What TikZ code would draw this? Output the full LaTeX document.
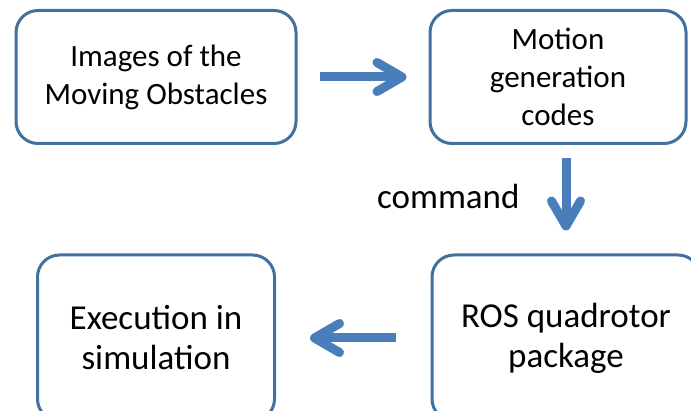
\documentclass[tikz,border=0pt]{standalone}
\usepackage{xcolor}
\usepackage{fontspec}
\setmainfont{Carlito}
\usepackage{tikz}
\usetikzlibrary{calc}
\usetikzlibrary{arrows.meta}
\definecolor{boxline}{RGB}{65,113,156}
\definecolor{flowblue}{RGB}{74,126,187}

\begin{document}
\begin{tikzpicture} [x=1pt, y=-1pt,
  box/.style={draw=boxline, line width=3pt, rounded corners=22pt, inner sep=0, align=center},
  small/.style={font=\fontsize{31}{38}\selectfont},
  big/.style={font=\fontsize{35}{40}\selectfont},
  flow/.style={draw=flowblue, line width=9pt, -{Straight Barb[length=25pt, width=29pt, round]}}]
\path[use as bounding box, clip] (0,0) rectangle (691,411);
\fill[white] (0,0) rectangle (691,411);
\node[box, small, minimum width=280, minimum height=133] (imgs) at (156,77) {Images of the\\Moving Obstacles};
\node[box, small, minimum width=256, minimum height=133] (motion) at (558,77) {Motion\\generation\\codes};
\node[box, big, minimum width=237, minimum height=166] (exec) at (156,338) {Execution in\\simulation};
\node[box, big, minimum width=268, minimum height=166] (ros) at (566,338) {ROS quadrotor\\package};
\draw[flow, shorten <=22pt, shorten >=22pt] (imgs) -- (motion);
\draw[flow, shorten <=13pt, shorten >=23pt] (ros.north |- motion.south) -- (ros.north)
  node[midway, left=42pt, yshift=3pt, inner sep=0, big, text=black] (cmd) {command};
\draw[flow, shorten <=35pt, shorten >=34pt] (ros) -- (exec);
\end{tikzpicture}
\end{document}
